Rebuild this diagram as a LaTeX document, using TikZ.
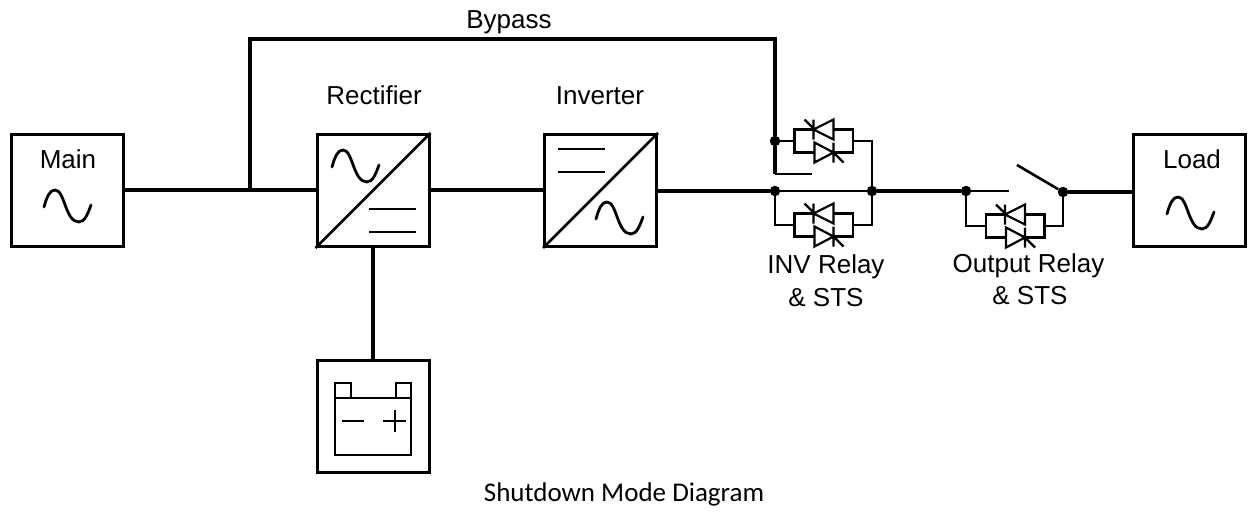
\documentclass[tikz,border=0pt]{standalone}
\usepackage{fontspec}
\setmainfont{Liberation Sans}
\newfontfamily\capfont{Carlito}
\begin{document}
\begin{tikzpicture}[x=1pt,y=-1pt,line join=miter,
  unit/.style={draw,line width=3pt,minimum size=112pt,inner sep=0pt,anchor=center,fill=white},
  mainline/.style={line width=3.8pt},
  branch/.style={line width=2.6pt},
  sym/.style={line width=2.2pt},
  dot/.style={circle,fill=black,inner sep=0pt,minimum size=10.5pt},
  lab/.style={font=\fontsize{26}{30}\selectfont,anchor=base,inner sep=0pt},
  sinewave/.pic={\draw[line width=2.8pt,line cap=round] (0,0) .. controls (3,-11) and (6,-17) .. (11,-17) .. controls (21,-17) and (21,15) .. (35,15) .. controls (41,15) and (44,6) .. (47,-2);},
  thyrup/.pic={\draw[sym] (0,0) -- (20,-10) -- (20,10) -- cycle (0,-10) -- (0,10) (-9,-10) -- (1,0);},
  thyrdown/.pic={\draw[sym] (0,0) -- (-19,-10) -- (-19,10) -- cycle (0,-10) -- (0,10) (0,0) -- (10,10);},
  thyrpair/.pic={
    \draw[sym] (19,-11.5) -- (0,-11.5) -- (0,11.5) -- (20,11.5) (39,-11.5) -- (58.5,-11.5) -- (58.5,11.5) -- (39,11.5);
    \pic at (19,-11.5) {thyrup};
    \pic at (39,11.5) {thyrdown};}
]
\useasboundingbox (0,0) rectangle (1248,512);
% units
\node[unit] (main) at (67,190.5) {};
\node[unit] (rect) at (373,190.5) {};
\node[unit] (inv) at (600.5,190.5) {};
\node[unit] (load) at (1189.5,190.5) {};
\node[unit] (batt) at (373,416) {};
\draw[line width=2.8pt] (rect.south west) -- (rect.north east);
\draw[line width=2.8pt] (inv.south west) -- (inv.north east);
% junctions
\node[dot] (j1) at (775,141) {};
\node[dot] (j2) at (775,191) {};
\node[dot] (j3) at (872,191) {};
\node[dot] (j4) at (966,191) {};
\node[dot] (j5) at (1063,192) {};
\coordinate (tap) at (250,190);
\coordinate (bt1) at (250,39);
\coordinate (bt2) at (775,39);
\coordinate (bend) at (775,174);
\coordinate (bendend) at (812,174);
\coordinate (swopen) at (1009,191);
\coordinate (swblade) at (1017,165);
% main power lines
\draw[mainline] (main.east |- tap) -- (rect.west |- tap);
\draw[mainline] (rect.east |- tap) -- (inv.west |- tap);
\draw[mainline] (inv.east |- j2) -- (j2);
\draw[mainline] (j3) -- (j4);
\draw[mainline] (j5) -- (load.west |- j5);
\draw[mainline] (rect.south) -- (batt.north);
\draw[mainline] (tap) -- (bt1) -- (bt2) -- (j1);
\draw[mainline] (j1) -- (bend);
\draw[branch] (bend) -- (bendend);
\draw[branch] (j2) -- (j3);
\draw[branch] (j4) -- (swopen);
\draw[branch] (j5) -- (swblade);
% thyristor pairs
\pic at (794.5,141) {thyrpair};
\pic at (794.5,225) {thyrpair};
\pic at (986,226) {thyrpair};
\draw[branch] (j1) -- (794.5,141);
\draw[branch] (853,141) -| (j3);
\draw[branch] (j2) |- (794.5,225);
\draw[branch] (853,225) -| (j3);
\draw[branch] (j4) |- (986,226);
\draw[branch] (1044.5,226) -| (j5);
% sine waves and dc bars
\pic at (44,207) {sinewave};
\pic at (332,167) {sinewave};
\pic at (596,219) {sinewave};
\pic at (1167,214) {sinewave};
\draw[sym] (369,209) -- (416,209) (369,232) -- (416,232);
\draw[sym] (558,149) -- (605,149) (558,172) -- (605,172);
% battery
\draw[line width=2.6pt] (335,398) rectangle (411,455);
\draw[line width=2.6pt] (335,398) -- (335,383) -- (351,383) -- (351,398);
\draw[line width=2.6pt] (396,398) -- (396,383) -- (411,383) -- (411,398);
\draw[line width=2.8pt] (342,421) -- (364,421) (383,421) -- (406,421) (395,410) -- (395,432);
% labels
\node[lab] (lmain) at (68,168) {Main};
\node[lab] (lload) at (1192,168) {Load};
\node[lab] (lrect) at (374,104) {Rectifier};
\node[lab] (linv) at (600,104) {Inverter};
\node[lab] (lby) at (509,28) {Bypass};
\node[lab] (lir) at (826,273) {INV Relay};
\node[lab] (lis) at (826,306) {\& STS};
\node[lab] (lor) at (1028.5,272) {Output Relay};
\node[lab] (los) at (1030,304) {\& STS};
\node[font=\capfont\fontsize{27}{31}\selectfont,inner sep=0pt,anchor=base] (cap) at (624,501) {Shutdown Mode Diagram};
\end{tikzpicture}
\end{document}
